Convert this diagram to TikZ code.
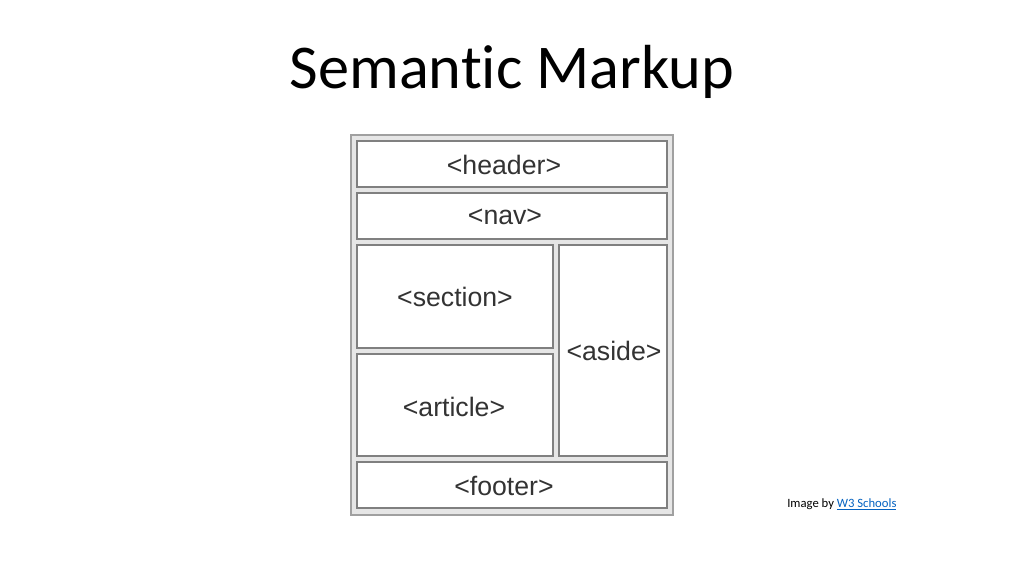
\documentclass[tikz,border=0pt]{standalone}
\usepackage{fontspec}
\setmainfont{Carlito}[Ligatures=NoCommon]
\newfontfamily\tagfont{Liberation Sans}
\usepackage{xcolor}
\definecolor{framefill}{HTML}{E6E6E6}
\definecolor{frameline}{HTML}{A0A0A0}
\definecolor{boxline}{HTML}{808080}
\definecolor{tagtext}{HTML}{333333}
\definecolor{linkblue}{HTML}{0563C1}

\begin{document}
\begin{tikzpicture}[
		x=0.75pt, y=-0.75pt,
		frame/.style={fill=framefill, draw=frameline, line width=1.2pt},
		box/.style={fill=white, draw=boxline, line width=1pt},
		tag/.style={font=\tagfont\fontsize{20}{24}\selectfont, text=tagtext}
	]
	\useasboundingbox[fill=white] (0, 0) rectangle (1024, 576);
	
	\node[font=\fontsize{46.7}{56}\selectfont] (title) at (512, 72) {Semantic Markup};
	
	% outer frame
	\draw[frame] (351, 135) rectangle (673, 515);
	
	\draw[box] (357, 141) rectangle (667, 187);
	\draw[box] (357, 193) rectangle (667, 239);
	\draw[box] (357, 245) rectangle (553, 348);
	\draw[box] (357, 354) rectangle (553, 456);
	\draw[box] (559, 245) rectangle (667, 456);
	\draw[box] (357, 462) rectangle (667, 508);
	
	\node[tag] (header) at (504, 165) {<header>};
	\node[tag] (nav) at (505, 217) {<nav>};
	\node[tag] (section) at (455, 297) {<section>};
	\node[tag] (article) at (454, 407) {<article>};
	\node[tag] (aside) at (614, 351) {<aside>};
	\node[tag] (footer) at (504, 486) {<footer>};
	
	\node[font=\fontsize{9.5}{11}\selectfont, anchor=west, inner sep=0pt] (credit) at (787, 504)
		{Image by \textcolor{linkblue}{\underline{W3 Schools}}};
\end{tikzpicture}
\end{document}
